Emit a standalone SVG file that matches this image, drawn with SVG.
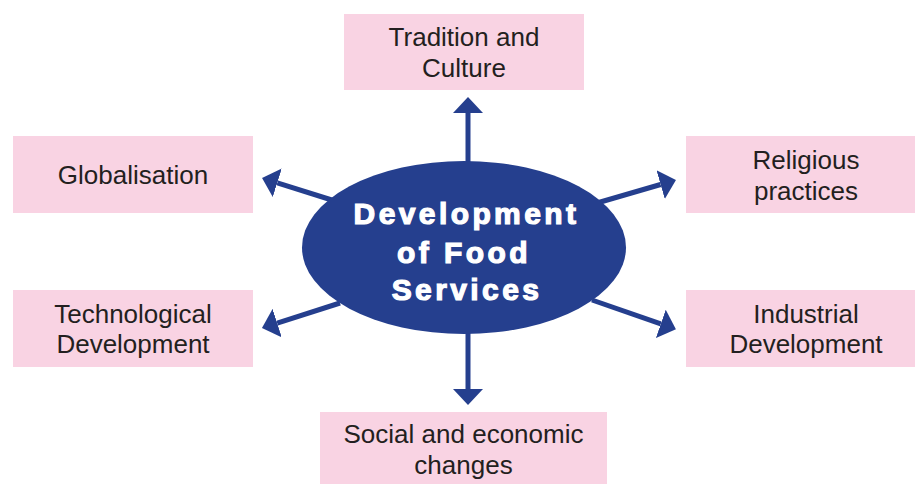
<svg xmlns="http://www.w3.org/2000/svg" width="915" height="484" viewBox="0 0 915 484">
  <defs>
    <marker id="head" markerUnits="userSpaceOnUse" viewBox="0 0 16 30" markerWidth="16" markerHeight="30" refX="0" refY="15" orient="auto">
      <path d="M0,0 L16,15 L0,30 Z" fill="#253F8E"/>
    </marker>
    <style>
      .box { fill: #F9D3E3; }
      .lbl { font-family: "Liberation Sans", Arial, sans-serif; font-size: 26px; fill: #231F20; text-anchor: middle; }
      .conn { stroke: #253F8E; stroke-width: 5; fill: none; marker-end: url(#head); }
      .center { font-family: "Liberation Sans", Arial, sans-serif; font-size: 30px; font-weight: bold; fill: #FFFFFF; stroke: #FFFFFF; stroke-width: 1.2; text-anchor: middle; letter-spacing: 3.4px; }
    </style>
  </defs>
  <rect width="915" height="484" fill="#FFFFFF"/>

  <g id="connectors">
    <line class="conn" x1="468" y1="170" x2="468" y2="113"/>
    <line class="conn" x1="468" y1="325" x2="468" y2="389"/>
    <line class="conn" x1="335" y1="201" x2="277.3" y2="182.8"/>
    <line class="conn" x1="340" y1="303" x2="277.2" y2="323.1"/>
    <line class="conn" x1="597" y1="203" x2="660.6" y2="184.5"/>
    <line class="conn" x1="592" y1="300" x2="660.8" y2="323.9"/>
  </g>

  <g id="node-center">
    <ellipse cx="464" cy="247.5" rx="162" ry="86.5" fill="#253F8E"/>
    <text class="center" x="466.5" y="224">Development</text>
    <text class="center" x="464" y="263">of Food</text>
    <text class="center" x="467" y="300">Services</text>
  </g>

  <g id="node-tradition">
    <rect class="box" x="344" y="14" width="240" height="76"/>
    <text class="lbl" x="464" y="46">Tradition and</text>
    <text class="lbl" x="464" y="77">Culture</text>
  </g>

  <g id="node-globalisation">
    <rect class="box" x="13" y="136" width="240" height="77"/>
    <text class="lbl" x="133" y="184">Globalisation</text>
  </g>

  <g id="node-technological">
    <rect class="box" x="13" y="290" width="240" height="77"/>
    <text class="lbl" x="133" y="322.5">Technological</text>
    <text class="lbl" x="133" y="353">Development</text>
  </g>

  <g id="node-religious">
    <rect class="box" x="686" y="136" width="240" height="77"/>
    <text class="lbl" x="806" y="168.5">Religious</text>
    <text class="lbl" x="806" y="199.5">practices</text>
  </g>

  <g id="node-industrial">
    <rect class="box" x="686" y="290" width="240" height="77"/>
    <text class="lbl" x="806" y="322.5">Industrial</text>
    <text class="lbl" x="806" y="353">Development</text>
  </g>

  <g id="node-social">
    <rect class="box" x="320" y="412" width="287" height="80"/>
    <text class="lbl" x="463.5" y="443">Social and economic</text>
    <text class="lbl" x="463.5" y="474">changes</text>
  </g>
</svg>
